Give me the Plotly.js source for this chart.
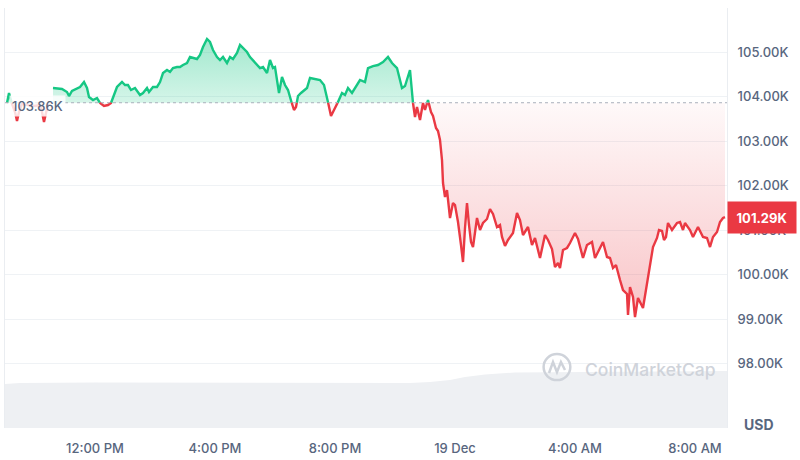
<!DOCTYPE html>
<html>
<head>
<meta charset="utf-8">
<script src="https://cdn.plot.ly/plotly-3.0.1.min.js"></script>
<style>html,body{margin:0;padding:0;background:#fff;}#chart{width:800px;height:460px;}</style>
</head>
<body>
<div id="chart"></div>
<script>
// ---- data ----
const baselinePrice = 103860;
const priceTimes = [
'2024-12-18 09:04','2024-12-18 09:08','2024-12-18 09:14','2024-12-18 09:20','2024-12-18 09:24','2024-12-18 09:28','2024-12-18 09:34','2024-12-18 09:46','2024-12-18 10:00','2024-12-18 10:10','2024-12-18 10:14','2024-12-18 10:18','2024-12-18 10:22','2024-12-18 10:26','2024-12-18 10:30',
'2024-12-18 10:36','2024-12-18 10:54','2024-12-18 11:04','2024-12-18 11:08','2024-12-18 11:14','2024-12-18 11:24','2024-12-18 11:30','2024-12-18 11:38','2024-12-18 11:44','2024-12-18 11:48','2024-12-18 11:56',
'2024-12-18 12:04','2024-12-18 12:10','2024-12-18 12:18','2024-12-18 12:26','2024-12-18 12:32','2024-12-18 12:36','2024-12-18 12:44','2024-12-18 12:54','2024-12-18 13:00','2024-12-18 13:06','2024-12-18 13:12','2024-12-18 13:20','2024-12-18 13:30','2024-12-18 13:36','2024-12-18 13:44','2024-12-18 13:48','2024-12-18 13:56',
'2024-12-18 14:04','2024-12-18 14:10','2024-12-18 14:16','2024-12-18 14:24','2024-12-18 14:30','2024-12-18 14:36','2024-12-18 14:44','2024-12-18 14:50','2024-12-18 14:56','2024-12-18 15:04','2024-12-18 15:10','2024-12-18 15:16','2024-12-18 15:24','2024-12-18 15:30','2024-12-18 15:36','2024-12-18 15:44','2024-12-18 15:50','2024-12-18 15:56',
'2024-12-18 16:04','2024-12-18 16:10','2024-12-18 16:16','2024-12-18 16:24','2024-12-18 16:30','2024-12-18 16:36','2024-12-18 16:44','2024-12-18 16:50','2024-12-18 16:56','2024-12-18 17:04','2024-12-18 17:10','2024-12-18 17:16','2024-12-18 17:24','2024-12-18 17:30','2024-12-18 17:36','2024-12-18 17:44','2024-12-18 17:50','2024-12-18 17:56',
'2024-12-18 18:00','2024-12-18 18:04','2024-12-18 18:08','2024-12-18 18:14','2024-12-18 18:20','2024-12-18 18:26','2024-12-18 18:30','2024-12-18 18:34','2024-12-18 18:38','2024-12-18 18:42','2024-12-18 18:46','2024-12-18 18:52','2024-12-18 19:00','2024-12-18 19:04','2024-12-18 19:10','2024-12-18 19:20','2024-12-18 19:30','2024-12-18 19:38','2024-12-18 19:44','2024-12-18 19:48','2024-12-18 19:52','2024-12-18 19:56',
'2024-12-18 20:02','2024-12-18 20:08','2024-12-18 20:14','2024-12-18 20:20','2024-12-18 20:26','2024-12-18 20:34','2024-12-18 20:42','2024-12-18 20:50','2024-12-18 21:00','2024-12-18 21:06','2024-12-18 21:16','2024-12-18 21:26','2024-12-18 21:36','2024-12-18 21:46','2024-12-18 21:54',
'2024-12-18 22:04','2024-12-18 22:14','2024-12-18 22:20','2024-12-18 22:30','2024-12-18 22:36','2024-12-18 22:40','2024-12-18 22:44','2024-12-18 22:50','2024-12-18 22:56','2024-12-18 23:00','2024-12-18 23:06','2024-12-18 23:12','2024-12-18 23:16','2024-12-18 23:22','2024-12-18 23:26','2024-12-18 23:30','2024-12-18 23:34','2024-12-18 23:36','2024-12-18 23:40','2024-12-18 23:44','2024-12-18 23:50','2024-12-18 23:56',
'2024-12-19 00:00','2024-12-19 00:06','2024-12-19 00:12','2024-12-19 00:16','2024-12-19 00:20','2024-12-19 00:24','2024-12-19 00:28','2024-12-19 00:32','2024-12-19 00:36','2024-12-19 00:44','2024-12-19 00:50','2024-12-19 00:56',
'2024-12-19 01:04','2024-12-19 01:10','2024-12-19 01:16','2024-12-19 01:24','2024-12-19 01:30','2024-12-19 01:34','2024-12-19 01:40','2024-12-19 01:46','2024-12-19 01:56',
'2024-12-19 02:04','2024-12-19 02:10','2024-12-19 02:16','2024-12-19 02:26','2024-12-19 02:34','2024-12-19 02:40','2024-12-19 02:50','2024-12-19 03:00','2024-12-19 03:06','2024-12-19 03:14','2024-12-19 03:20','2024-12-19 03:26','2024-12-19 03:30','2024-12-19 03:36','2024-12-19 03:44','2024-12-19 03:50',
'2024-12-19 04:00','2024-12-19 04:06','2024-12-19 04:16','2024-12-19 04:24','2024-12-19 04:34','2024-12-19 04:40','2024-12-19 04:50','2024-12-19 04:56','2024-12-19 05:04','2024-12-19 05:10','2024-12-19 05:16','2024-12-19 05:22','2024-12-19 05:30','2024-12-19 05:36','2024-12-19 05:44','2024-12-19 05:46','2024-12-19 05:50','2024-12-19 05:56',
'2024-12-19 06:00','2024-12-19 06:06','2024-12-19 06:16','2024-12-19 06:24','2024-12-19 06:32','2024-12-19 06:36','2024-12-19 06:44','2024-12-19 06:48','2024-12-19 06:54','2024-12-19 06:58','2024-12-19 07:02','2024-12-19 07:06','2024-12-19 07:14','2024-12-19 07:24','2024-12-19 07:30','2024-12-19 07:36','2024-12-19 07:40','2024-12-19 07:50','2024-12-19 07:56',
'2024-12-19 08:06','2024-12-19 08:16','2024-12-19 08:24','2024-12-19 08:30','2024-12-19 08:36','2024-12-19 08:44','2024-12-19 08:50','2024-12-19 08:56','2024-12-19 09:00'
];
const prices = [
103854,104079,103832,103652,103450,103652,103832,103809,103787,103809,103652,103427,103652,103832,null,
104191,104169,104101,104011,104124,104191,104214,104326,104191,103989,103921,
103966,103854,103787,103809,103854,103989,104214,104326,104258,104258,104146,104191,104034,104079,104191,104101,104214,
104214,104326,104528,104596,104551,104640,104663,104663,104708,104753,104888,104865,104843,104933,105112,105292,105225,105045,
104888,104820,104888,104753,104888,104843,104978,105157,105090,105000,104888,104820,104708,104640,104663,104528,104820,104640,
104663,104416,104079,104438,104258,104146,104011,103832,103697,103764,104011,104079,104146,104191,104416,104393,104371,104258,103989,103764,103562,103652,
103787,103921,104079,104034,104191,104079,104236,104371,104326,104640,104685,104708,104775,104888,104753,
104640,104191,104236,104596,103854,103539,103764,103472,103854,103697,103921,103652,103562,103292,103225,103023,102573,102056,101742,101899,101270,101607,
101562,101180,100663,100281,101045,101607,101113,100731,100618,101270,101000,101158,
101248,101472,101360,101068,101113,100843,100641,100776,100933,
101382,101225,100888,101068,100663,100821,100371,100888,100776,100573,100169,100259,100146,100551,100596,100708,
100933,100798,100371,100663,100731,100371,100596,100731,100394,100371,100146,100214,99877,99652,99562,99090,99720,99495,
99045,99472,99248,99809,100439,100618,100821,101000,100978,100776,100843,101158,101000,101158,101180,101000,101158,101000,100843,
101068,100843,100821,100618,100843,100955,101180,101270,101290
];
// volume (billions USD, 24h rolling)
const volumeTimes = ['2024-12-18 09:00','2024-12-18 09:30','2024-12-18 12:00','2024-12-18 16:00','2024-12-18 20:00','2024-12-18 22:30','2024-12-18 23:10','2024-12-18 23:50','2024-12-19 00:20','2024-12-19 01:00','2024-12-19 02:00','2024-12-19 04:00','2024-12-19 06:00','2024-12-19 09:04'];
const volumes = [44, 45, 45.5, 45.5, 45, 45, 46, 48, 51, 53.5, 55.5, 56, 56.5, 57];
// axis ticks
const xTickVals = ['2024-12-18 12:00','2024-12-18 16:00','2024-12-18 20:00','2024-12-19 00:00','2024-12-19 04:00','2024-12-19 08:00'];
const xTickText = ['12:00 PM','4:00 PM','8:00 PM','19 Dec','4:00 AM','8:00 AM'];
const yTickVals = [98000,99000,100000,101000,102000,103000,104000,105000];
const yTickText = ['98.00K','99.00K','100.00K','101.00K','102.00K','103.00K','104.00K','105.00K'];

// ---- build colored segments (insert baseline crossings) ----
function pad(n){return (n<10?'0':'')+n;}
function fmt(ms){const d=new Date(ms);return d.getFullYear()+'-'+pad(d.getMonth()+1)+'-'+pad(d.getDate())+' '+pad(d.getHours())+':'+pad(d.getMinutes())+':'+pad(d.getSeconds());}
function toMs(s){return new Date(s.replace(' ','T')).getTime();}
const X=[],Y=[];
for(let i=0;i<prices.length;i++){
  if(i>0&&prices[i]!=null&&prices[i-1]!=null&&(prices[i]-baselinePrice)*(prices[i-1]-baselinePrice)<0){
    const t0=toMs(priceTimes[i-1]),t1=toMs(priceTimes[i]);
    const f=(baselinePrice-prices[i-1])/(prices[i]-prices[i-1]);
    X.push(fmt(t0+f*(t1-t0)));Y.push(baselinePrice);
  }
  X.push(priceTimes[i]);Y.push(prices[i]);
}
const greenLine=Y.map(v=>v!=null&&v>=baselinePrice?v:null);
const redLine=Y.map(v=>v!=null&&v<=baselinePrice?v:null);
function fillPoly(clip){
  const fx=[],fy=[];let seg=[];
  const flush=()=>{if(seg.length>1){seg.forEach(k=>{fx.push(X[k]);fy.push(clip(Y[k]));});fx.push(X[seg[seg.length-1]]);fy.push(baselinePrice);fx.push(X[seg[0]]);fy.push(baselinePrice);fx.push(null);fy.push(null);}seg=[];};
  for(let k=0;k<Y.length;k++){if(Y[k]==null)flush();else seg.push(k);}
  flush();
  return {fx,fy};
}
const gF=fillPoly(v=>Math.max(v,baselinePrice));
const rF=fillPoly(v=>Math.min(v,baselinePrice));

const GREEN='#16c784',RED='#ea3943',TXT='#58667e';
const traces=[
 {x:volumeTimes,y:volumes,yaxis:'y2',type:'scatter',mode:'lines',line:{width:0},fill:'tozeroy',fillcolor:'#eef0f3',hoverinfo:'skip'},
 {x:gF.fx,y:gF.fy,type:'scatter',mode:'lines',line:{width:0},fill:'toself',fillcolor:'rgba(22,199,132,0.28)',
  fillgradient:{type:'vertical',start:baselinePrice,stop:105300,colorscale:[[0,'rgba(22,199,132,0.18)'],[1,'rgba(22,199,132,0.40)']]},hoverinfo:'skip'},
 {x:rF.fx,y:rF.fy,type:'scatter',mode:'lines',line:{width:0},fill:'toself',fillcolor:'rgba(234,57,67,0.12)',
  fillgradient:{type:'vertical',start:baselinePrice,stop:99000,colorscale:[[0,'rgba(234,57,67,0.03)'],[1,'rgba(234,57,67,0.30)']]},hoverinfo:'skip'},
 {x:X,y:greenLine,type:'scatter',mode:'lines',line:{color:GREEN,width:2.4},connectgaps:false},
 {x:X,y:redLine,type:'scatter',mode:'lines',line:{color:RED,width:2.4},connectgaps:false}
];
const lastPrice=prices[prices.length-1];
const layout={
 width:800,height:460,margin:{l:5,r:73,t:8,b:32},
 paper_bgcolor:'#fff',plot_bgcolor:'#fff',showlegend:false,hovermode:false,
 font:{family:'Inter, "Noto Sans", sans-serif',size:13,color:TXT},
 xaxis:{type:'date',range:['2024-12-18 09:00','2024-12-19 09:04'],tickvals:xTickVals,ticktext:xTickText,
   showgrid:false,zeroline:false,showline:false,ticks:'',ticklabelstandoff:11,tickfont:{size:13,color:TXT,weight:500}},
 yaxis:{side:'right',range:[96551,105989],tickvals:yTickVals,ticktext:yTickText,gridcolor:'#eff2f5',gridwidth:1,
   zeroline:false,showline:true,mirror:true,linecolor:'#eaedf1',ticks:'',ticklabelstandoff:7,tickfont:{size:13,color:TXT,weight:500}},
 yaxis2:{overlaying:'y',range:[0,420],visible:false,showgrid:false},
 shapes:[
  {type:'line',xref:'paper',x0:0,x1:1,yref:'y',y0:baselinePrice,y1:baselinePrice,line:{color:'#a9b0bc',width:1,dash:'dot'},layer:'above'},
  {type:'circle',xref:'paper',yref:'paper',x0:0.746,x1:0.783,y0:0.114,y1:0.176,line:{color:'#cfd3da',width:2.5}},
  {type:'path',xref:'paper',yref:'paper',path:'M0.7535,0.131 L0.759,0.157 L0.7645,0.133 L0.770,0.157 L0.7756,0.138',line:{color:'#cfd3da',width:2.5}}
 ],
 annotations:[
  {xref:'paper',x:0.006,xanchor:'left',yref:'y',y:baselinePrice,yanchor:'middle',yshift:-3,text:(baselinePrice/1000).toFixed(2)+'K',
   showarrow:false,bgcolor:'rgba(255,255,255,0.82)',borderpad:2,font:{size:13,color:TXT,weight:500}},
  {xref:'paper',x:1,xanchor:'left',yref:'y',y:lastPrice,yanchor:'middle',text:(lastPrice/1000).toFixed(2)+'K',showarrow:false,
   bgcolor:RED,borderpad:4,width:60,height:23,font:{size:13,color:'#fff',weight:700}},
  {xref:'paper',x:1,xanchor:'left',xshift:15,yref:'paper',y:0,yanchor:'middle',yshift:4,text:'USD',showarrow:false,font:{size:14,color:TXT,weight:700}},
  {xref:'paper',x:0.800,xanchor:'left',yref:'paper',y:0.140,yanchor:'middle',text:'CoinMarketCap',showarrow:false,font:{size:17.5,color:'#cfd3da',weight:500}}
 ]
};
Plotly.newPlot('chart',traces,layout,{displayModeBar:false,staticPlot:true});
</script>
</body>
</html>
